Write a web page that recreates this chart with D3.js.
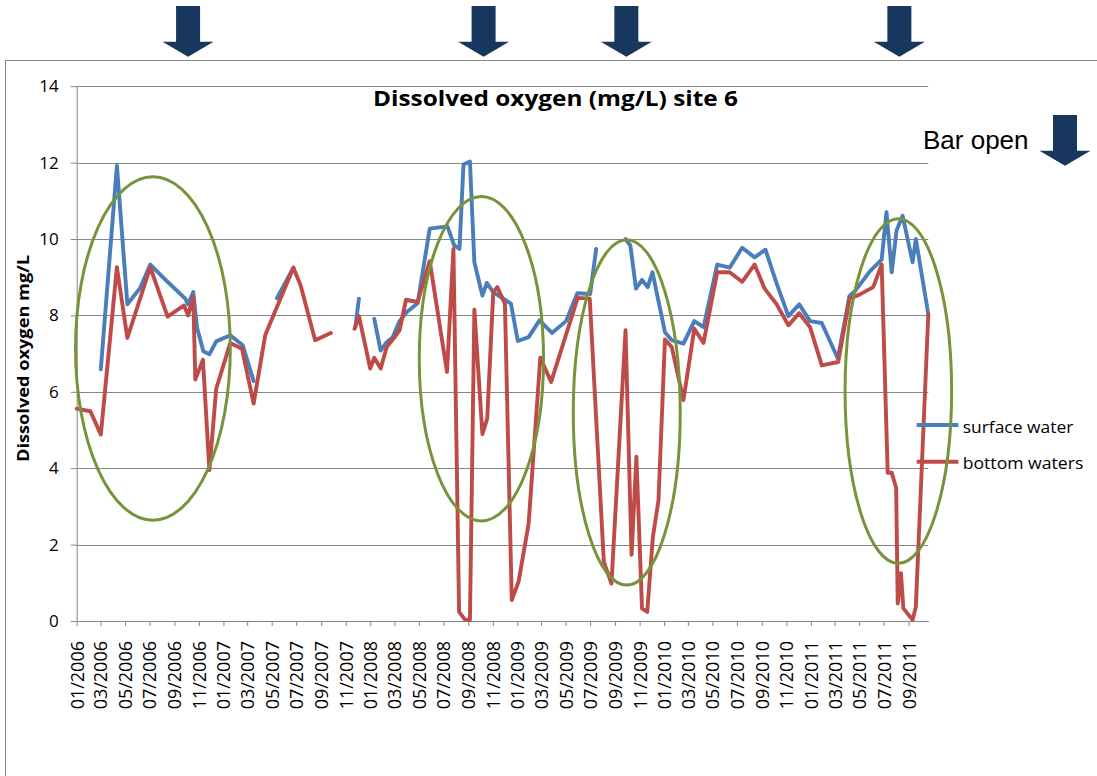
<!DOCTYPE html>
<html><head><meta charset="utf-8">
<script src="https://cdn.jsdelivr.net/npm/d3@7"></script>
<style>body{margin:0;background:#fff}svg{display:block}</style>
</head><body><svg id="c" width="1097" height="776"></svg>
<script>
// ---------------- DATA ----------------
const chartTitle = "Dissolved oxygen (mg/L) site 6";
const yAxisTitle = "Dissolved oxygen  mg/L";
const seriesNames = ["surface water", "bottom waters"];
const yTickValues = [0, 2, 4, 6, 8, 10, 12, 14];
const xDomainDates = ["2006-01-01", "2011-10-20"];

const surfaceDates = [
 "2006-03-02","2006-04-11","2006-05-07","2006-06-08","2006-07-03","2006-08-13","2006-09-28","2006-10-05",
 "2006-10-18","2006-10-27","2006-11-12","2006-11-27","2006-12-14","2007-01-18","2007-02-18","2007-03-17",
 "2007-04-15","2007-05-14","2007-06-24","2007-07-12",
 "2007-11-25","2007-12-04","2007-12-20",
 "2008-01-11","2008-01-27","2008-02-11","2008-02-26","2008-03-14","2008-04-01","2008-04-28","2008-05-28",
 "2008-07-11","2008-07-28","2008-08-10","2008-08-20","2008-09-05","2008-09-16","2008-10-06","2008-10-17",
 "2008-11-02","2008-12-04","2008-12-16","2009-01-02","2009-01-29","2009-02-25","2009-03-28","2009-05-02",
 "2009-05-30","2009-07-01","2009-07-16","2009-08-10",
 "2009-09-27","2009-10-09","2009-10-23","2009-11-07","2009-11-21","2009-12-03","2010-01-03","2010-01-20",
 "2010-02-18","2010-03-17","2010-04-09","2010-05-13","2010-06-13","2010-07-14","2010-08-14","2010-09-10",
 "2010-10-08","2010-11-06","2010-12-03","2010-12-30","2011-01-28","2011-03-09","2011-04-07","2011-04-21",
 "2011-05-28","2011-06-26","2011-07-08","2011-07-21","2011-08-02","2011-08-17","2011-09-11","2011-09-19",
 "2011-10-20"
];
const surfaceValues = [
 6.59,11.92,8.29,8.72,9.33,8.90,8.44,8.29,
 8.61,7.69,7.06,6.98,7.32,7.48,7.22,6.28,
 null,8.45,9.25,null,
 7.69,8.44,null,
 7.91,7.08,7.30,7.43,7.85,8.09,8.32,10.27,
 10.33,9.83,9.74,11.95,12.03,9.39,8.52,8.85,
 8.61,8.39,8.31,7.33,7.43,7.87,7.54,7.85,
 8.58,8.56,9.74,null,
 10.00,9.83,8.70,8.93,8.74,9.13,7.56,7.35,
 7.26,7.85,7.69,9.33,9.25,9.77,9.52,9.72,
 8.83,7.98,8.29,7.85,7.80,6.87,8.51,8.64,
 9.16,9.46,10.70,9.13,10.22,10.61,9.39,10.00,
 8.03
];

const bottomDates = [
 "2006-01-01","2006-02-04","2006-03-02","2006-04-11","2006-05-07","2006-07-03","2006-08-15","2006-09-25",
 "2006-10-05","2006-10-18","2006-10-23","2006-11-11","2006-11-27","2006-12-14","2007-01-18","2007-02-16",
 "2007-03-17","2007-04-15","2007-05-14","2007-06-24","2007-07-12","2007-08-17","2007-09-25","2007-10-25",
 "2007-11-23","2007-12-04","2008-01-01","2008-01-11","2008-01-27","2008-02-11","2008-02-26","2008-03-14",
 "2008-03-30","2008-04-28","2008-05-28","2008-07-10","2008-07-26","2008-08-09","2008-08-24","2008-09-05",
 "2008-09-16","2008-10-06","2008-10-18","2008-11-02","2008-11-12","2008-12-01","2008-12-18","2009-01-04",
 "2009-01-29","2009-02-27","2009-03-26","2009-05-31","2009-06-30","2009-08-04","2009-08-23","2009-09-27",
 "2009-10-12","2009-10-24","2009-11-07","2009-11-20","2009-12-04","2009-12-18","2010-01-03","2010-01-20",
 "2010-02-18","2010-03-17","2010-04-09","2010-05-13","2010-06-13","2010-07-14","2010-08-14","2010-09-08",
 "2010-10-08","2010-11-06","2010-12-03","2010-12-30","2011-01-28","2011-03-10","2011-04-07","2011-05-03",
 "2011-06-05","2011-06-26","2011-07-11","2011-07-21","2011-08-01","2011-08-05","2011-08-13","2011-08-19",
 "2011-09-11","2011-09-19","2011-10-20"
];
const bottomValues = [
 5.56,5.49,4.88,9.26,7.41,9.26,7.97,8.26,
 8.00,8.48,6.32,6.84,3.95,6.08,7.28,7.13,
 5.69,7.49,8.22,9.25,8.78,7.35,7.54,null,
 7.65,7.98,6.61,6.89,6.61,7.17,7.37,7.61,
 8.41,8.35,9.42,6.52,9.74,0.24,0.03,0.03,
 8.15,4.89,5.30,8.61,8.74,8.31,0.55,1.03,
 2.55,6.89,6.26,8.46,8.44,1.55,0.98,7.61,
 1.73,4.30,0.33,0.24,2.20,3.16,7.37,7.17,
 5.78,7.65,7.28,9.13,9.13,8.88,9.33,8.70,
 8.29,7.74,8.06,7.69,6.69,6.78,8.44,8.55,
 8.74,9.33,3.88,3.88,3.49,0.46,1.25,0.33,
 0.03,0.37,8.03
];

// annotations: bar-opening dates (arrows) and highlighted periods (ellipses)
const barOpenDates = ["2006-10-05","2008-10-09","2009-09-29","2011-08-09"];
const ellipseStart = ["2005-12-29","2008-05-02","2009-05-20","2011-03-27"];
const ellipseEnd   = ["2007-01-18","2009-03-07","2010-02-10","2011-12-17"];
const ellipseTop    = [11.63, 11.11, 9.98, 10.53];
const ellipseBottom = [2.64, 2.62, 0.94, 1.51];
const barOpenLabel = "Bar open";

// ---------------- DRAWING ----------------
const parse = d3.utcParse("%Y-%m-%d");
const svg = d3.select("#c");
const FONT = "'Open Sans', 'Noto Sans', sans-serif";
const GRID = "#868686";
const BLUE = "#4A7EBB", RED = "#BE4B48", GREEN = "#77933C", NAVY = "#17375E";

svg.append("rect").attr("width", 1097).attr("height", 776).attr("fill", "#fff");
// chart frame
svg.append("rect").attr("x", 5.5).attr("y", 60.5).attr("width", 1200).attr("height", 800)
  .attr("fill", "none").attr("stroke", GRID).attr("stroke-width", 1);

const x = d3.scaleUtc().domain(xDomainDates.map(parse)).range([76.7, 928.3]);
const y = d3.scaleLinear().domain([0, 14]).range([621, 86.2]);

// gridlines
svg.append("g").selectAll("line").data(yTickValues.filter(v => v > 0)).join("line")
  .attr("x1", x.range()[0]).attr("x2", x.range()[1])
  .attr("y1", d => Math.round(y(d)) + 0.5).attr("y2", d => Math.round(y(d)) + 0.5)
  .attr("stroke", GRID).attr("stroke-width", 1);

// y axis
const yAxis = svg.append("g").attr("transform", `translate(${x.range()[0]},0)`)
  .call(d3.axisLeft(y).tickValues(yTickValues).tickSizeInner(6).tickSizeOuter(0).tickPadding(12));
yAxis.select(".domain").attr("stroke", GRID);
yAxis.selectAll(".tick line").attr("stroke", GRID);
yAxis.selectAll("text").attr("font-family", FONT).attr("font-size", 17).attr("fill", "#000");

// x axis
const xTicks = d3.utcMonth.every(2).range(parse("2006-01-01"), x.domain()[1]);
const xAxis = svg.append("g").attr("transform", `translate(0,${y(0)})`)
  .call(d3.axisBottom(x).tickValues(xTicks).tickFormat(d3.utcFormat("%m/%Y")).tickSizeInner(5).tickSizeOuter(0));
xAxis.select(".domain").attr("stroke", GRID);
xAxis.selectAll(".tick line").attr("stroke", GRID);
xAxis.selectAll("text")
  .attr("font-family", FONT).attr("font-size", 18).attr("fill", "#000")
  .attr("text-anchor", "end").attr("transform", "rotate(-90)")
  .attr("x", -20).attr("y", 0).attr("dy", "0.36em");

// series
function mk(dates, values) { return dates.map((d, i) => ({ date: parse(d), v: values[i] })); }
const line = d3.line().defined(d => d.v != null).x(d => x(d.date)).y(d => y(d.v));
const series = [
  { name: seriesNames[0], color: BLUE, data: mk(surfaceDates, surfaceValues), len: 110.6 },
  { name: seriesNames[1], color: RED, data: mk(bottomDates, bottomValues), len: 120.6 }
];
svg.append("g").selectAll("path").data(series).join("path")
  .attr("d", d => line(d.data)).attr("fill", "none").attr("stroke", d => d.color)
  .attr("stroke-width", 3.9).attr("stroke-linejoin", "round").attr("stroke-linecap", "round");

// title
svg.append("text").attr("x", 373).attr("y", 106).text(chartTitle)
  .attr("font-family", FONT).attr("font-weight", "bold").attr("font-size", 21)
  .attr("textLength", 365).attr("lengthAdjust", "spacingAndGlyphs");

// y axis title
svg.append("text").attr("transform", "translate(29,358.5) rotate(-90)").attr("text-anchor", "middle")
  .text(yAxisTitle).attr("font-family", FONT).attr("font-weight", "bold").attr("font-size", 16)
  .attr("textLength", 207).attr("lengthAdjust", "spacingAndGlyphs");

// legend
const lg = svg.append("g").selectAll("g").data(series).join("g")
  .attr("transform", (d, i) => `translate(916.7,${425 + i * 36.7})`);
lg.append("line").attr("x1", 0).attr("x2", 41.6).attr("stroke", d => d.color).attr("stroke-width", 3.9);
lg.append("text").attr("x", 46).attr("y", 7.7).text(d => d.name)
  .attr("font-family", FONT).attr("font-size", 17).attr("fill", "#000")
  .attr("textLength", d => d.len).attr("lengthAdjust", "spacingAndGlyphs");

// ellipses
const ell = ellipseStart.map((s, i) => ({
  x0: x(parse(s)), x1: x(parse(ellipseEnd[i])), y0: y(ellipseTop[i]), y1: y(ellipseBottom[i])
}));
svg.append("g").selectAll("ellipse").data(ell).join("ellipse")
  .attr("cx", d => (d.x0 + d.x1) / 2).attr("cy", d => (d.y0 + d.y1) / 2)
  .attr("rx", d => (d.x1 - d.x0) / 2).attr("ry", d => (d.y1 - d.y0) / 2)
  .attr("fill", "none").attr("stroke", GREEN).attr("stroke-width", 3);

// arrows
function arrow(cx, top) {
  const sw = 12, hw = 25.5, shaft = 35.7, head = 15;
  return `M${cx - sw},${top}H${cx + sw}V${top + shaft}H${cx + hw}L${cx},${top + shaft + head}L${cx - hw},${top + shaft}H${cx - sw}Z`;
}
svg.append("g").selectAll("path").data(barOpenDates).join("path")
  .attr("d", d => arrow(x(parse(d)), 6)).attr("fill", NAVY);
svg.append("path").attr("d", arrow(1065, 115)).attr("fill", NAVY);
svg.append("text").attr("x", 923).attr("y", 149).text(barOpenLabel)
  .attr("font-family", "'Liberation Sans', Arial, sans-serif").attr("font-size", 26).attr("fill", "#000");
</script></body></html>
